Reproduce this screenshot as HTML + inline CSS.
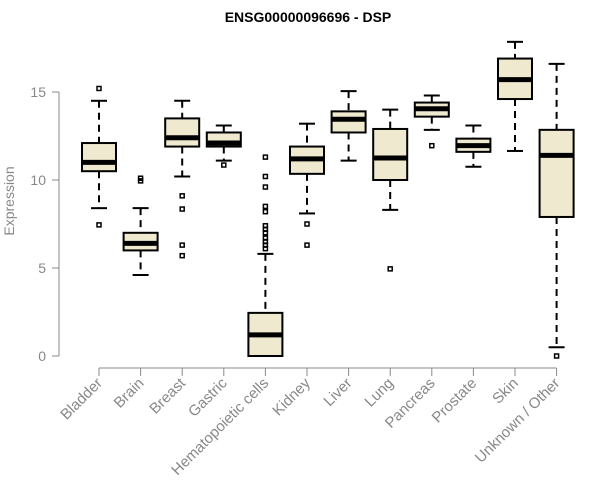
<!DOCTYPE html>
<html><head><meta charset="utf-8"><style>body{margin:0;background:#fff}svg{display:block}</style></head>
<body>
<svg id="chart" width="600" height="500" xmlns="http://www.w3.org/2000/svg" font-family="Liberation Sans, sans-serif">
<text x="308" y="22" text-anchor="middle" font-weight="bold" font-size="14">ENSG00000096696 - DSP</text>
<text transform="translate(14,201) rotate(-90)" text-anchor="middle" font-size="14" fill="#888">Expression</text>
<g id="plot"></g>
</svg>
<script>
const categories=["Bladder","Brain","Breast","Gastric","Hematopoietic cells","Kidney","Liver","Lung","Pancreas","Prostate","Skin","Unknown / Other"];
const whiskLow=[8.4,4.6,10.2,11.1,0,8.1,11.1,8.3,12.85,10.75,11.65,0.5];
const q1=[10.5,6.0,11.9,11.9,0,10.35,12.7,10.0,13.6,11.6,14.6,7.9];
const medians=[11.0,6.4,12.4,12.1,1.2,11.2,13.45,11.25,14.05,11.95,15.7,11.4];
const q3=[12.1,7.0,13.5,12.7,2.45,11.9,13.9,12.9,14.4,12.35,16.9,12.85];
const whiskHigh=[14.5,8.4,14.5,13.1,5.8,13.2,15.05,14.0,14.8,13.1,17.85,16.6];
const outliers=[[15.2,7.45],[10.1,9.95],[9.1,8.35,6.3,5.7],[10.85],[11.3,10.2,9.6,8.5,8.2,7.4,7.2,7.0,6.7,6.5,6.3,6.1],[7.5,6.3],[],[4.95],[11.95],[],[],[0]];
const yTicks=[0,5,10,15];
const NS="http://www.w3.org/2000/svg";
const g=document.getElementById('plot');
const y=v=>356-v*17.6;
const x=i=>99+i*41.6;
function mk(t,a,p){const e=document.createElementNS(NS,t);for(const k in a)e.setAttribute(k,a[k]);(p||g).appendChild(e);return e;}
let ax=mk('line',{x1:59,x2:59,y1:y(15),y2:y(0),stroke:'#888'});


yTicks.forEach(v=>{
 let t=mk('line',{x1:52,x2:59,y1:y(v),y2:y(v),stroke:'#888'});
 
 
 let l=mk('text',{x:46,y:y(v)+5,'text-anchor':'end','font-size':14,fill:'#888'});
 l.textContent=v;
 
 
});
let xa=mk('line',{x1:x(0),x2:x(11),y1:368,y2:368,stroke:'#888'});


categories.forEach((c,i)=>{
 const cx=x(i);
 let grp=mk('g',{});
 
 
 const s={stroke:'#000','stroke-width':2};
 mk('line',Object.assign({x1:cx,x2:cx,y1:y(whiskHigh[i]),y2:y(q3[i]),'stroke-dasharray':'7,5'},s),grp);
 mk('line',Object.assign({x1:cx,x2:cx,y1:y(q1[i]),y2:y(whiskLow[i]),'stroke-dasharray':'7,5'},s),grp);
 mk('line',Object.assign({x1:cx-8,x2:cx+8,y1:y(whiskHigh[i]),y2:y(whiskHigh[i])},s),grp);
 mk('line',Object.assign({x1:cx-8,x2:cx+8,y1:y(whiskLow[i]),y2:y(whiskLow[i])},s),grp);
 mk('rect',Object.assign({x:cx-17,width:34,y:y(q3[i]),height:y(q1[i])-y(q3[i]),fill:'#efe9d0'},s),grp);
 mk('line',{x1:cx-17,x2:cx+17,y1:y(medians[i]),y2:y(medians[i]),stroke:'#000','stroke-width':5},grp);
 outliers[i].forEach(o=>{
  let p=mk('rect',{x:cx-2,y:y(o)-2,width:4,height:4,fill:'none',stroke:'#000','stroke-width':1.5},grp);
  
  
 });
 let t=mk('line',{x1:cx,x2:cx,y1:368,y2:376,stroke:'#888'});
 
 
 let l=mk('text',{transform:`translate(${cx+4},${384}) rotate(-45)`,'text-anchor':'end','font-size':15,fill:'#888'});
 l.textContent=c;
 
 
});
</script>
</body></html>
